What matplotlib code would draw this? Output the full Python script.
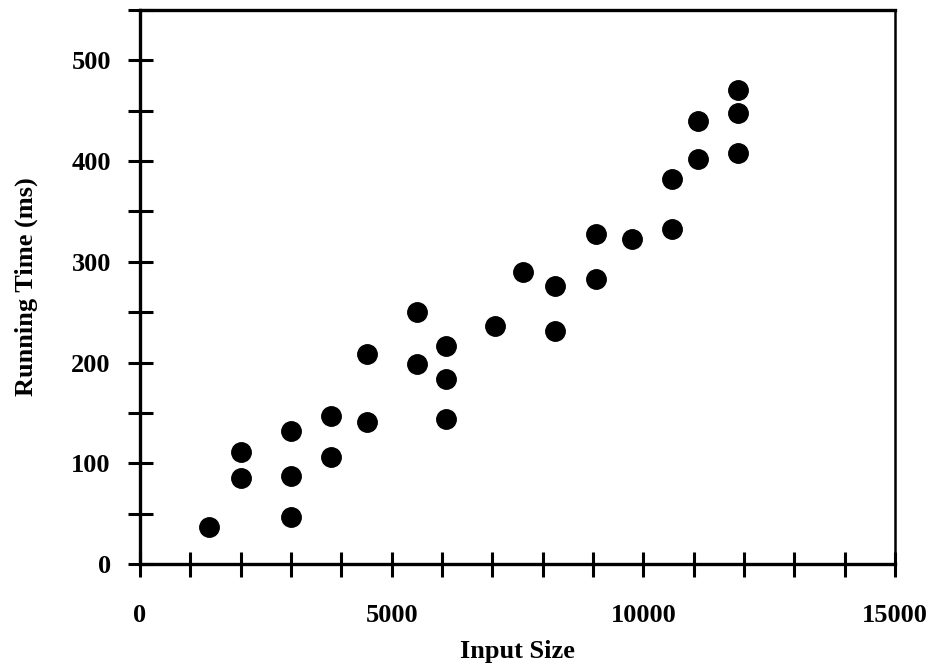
import numpy as np
import matplotlib
matplotlib.use('Agg')
import matplotlib.pyplot as plt
from matplotlib.ticker import MultipleLocator, FuncFormatter

# input size vs running time
input_size = [1370, 2000, 2000, 3000, 3000, 3000, 3800, 3800, 4500, 4500,
              5500, 5500, 6080, 6080, 6080, 7050, 7600, 8240, 8240, 9060,
              9060, 9765, 10570, 10570, 11090, 11090, 11880, 11880, 11880]
run_time = [37, 111, 85, 132, 87, 47, 147, 106, 208, 141,
            250, 199, 216, 184, 144, 236, 290, 276, 231, 328,
            283, 323, 382, 333, 440, 402, 471, 448, 408]

plt.rcParams['font.family'] = ['Liberation Serif', 'DejaVu Serif']
plt.rcParams['font.weight'] = 'bold'

fig = plt.figure(figsize=(9.39, 6.64), dpi=100)
ax = fig.add_axes([140/939, 100/664, 755/939, 554/664])

ax.plot(input_size, run_time, 'o', color='black', markersize=14)

ax.set_xlim(0, 15000)
ax.set_ylim(0, 550)

ax.xaxis.set_major_locator(MultipleLocator(1000))
ax.yaxis.set_major_locator(MultipleLocator(50))
ax.xaxis.set_major_formatter(FuncFormatter(lambda v, p: '%d' % v if v % 5000 == 0 else ''))
ax.yaxis.set_major_formatter(FuncFormatter(lambda v, p: '%d' % v if v % 100 == 0 and v <= 500 else ''))

ax.tick_params(axis='both', direction='inout', length=18, width=2.2, labelsize=19)
ax.tick_params(axis='x', pad=20)
ax.tick_params(axis='y', pad=12)

for s in ['left', 'bottom', 'top']:
    ax.spines[s].set_linewidth(2.4)
ax.spines['right'].set_linewidth(1.8)

ax.set_xlabel('Input Size', fontsize=19, fontweight='bold', labelpad=9)
ax.set_ylabel('Running Time (ms)', fontsize=19, fontweight='bold', labelpad=24)

fig.savefig('out.png', dpi=100)
